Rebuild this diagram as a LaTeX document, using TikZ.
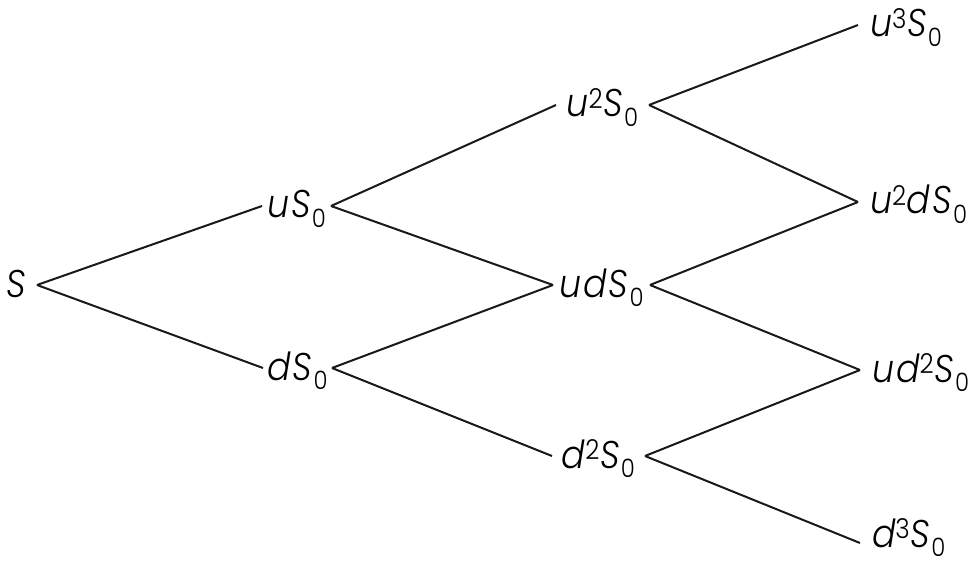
\documentclass[tikz,border=0pt]{standalone}
\usepackage{fontspec}
\setmainfont{Poppins}[UprightFont={* Light}, ItalicFont={* Light Italic}, FakeStretch=0.9]
\newcommand\supd[1]{\raisebox{6.5pt}{\fontsize{20.5}{20.5}\selectfont\upshape #1}\kern0.5pt}
\newcommand\subd[1]{\kern0.8pt\raisebox{-7pt}{\fontsize{19}{19}\selectfont\upshape #1}}
\newcommand\gp{\kern1.5pt}
\begin{document}
\begin{tikzpicture}[x=0.75pt,y=-0.75pt,
  lbl/.style={font=\fontsize{29}{31}\selectfont\itshape, text height=18pt, text depth=0pt,
              inner ysep=0pt, inner xsep=0pt, outer sep=0pt, align=center},
  edge/.style={draw=black!90, line width=1.5pt}]
\useasboundingbox (0,0) rectangle (975,574);
\node[lbl, anchor=east, inner xsep=8pt] (s) at (37,285) {S};
\node[lbl, minimum width=51.75pt] (u) at (296.5,206) {u\gp S\subd{0}};
\node[lbl, minimum width=51.75pt] (d) at (297.5,368) {d\gp S\subd{0}};
\node[lbl, minimum width=69.75pt] (uu) at (602.5,105) {u\supd{2}S\subd{0}};
\node[lbl, minimum width=72.75pt] (ud) at (601.5,285) {u\gp d\gp S\subd{0}};
\node[lbl, minimum width=69.75pt] (dd) at (598.5,456) {d\supd{2}S\subd{0}};
\node[lbl, anchor=west, inner xsep=9pt] (uuu) at (858,25) {u\supd{3}S\subd{0}};
\node[lbl, anchor=west, inner xsep=9pt] (uud) at (858,202) {u\supd{2}d\gp S\subd{0}};
\node[lbl, anchor=west, inner xsep=9pt] (udd) at (860,370) {u\gp d\supd{2}S\subd{0}};
\node[lbl, anchor=west, inner xsep=9pt, text height=6pt] (ddd) at (860,543) {d\supd{3}S\subd{0}};
\draw[edge] (s.east) -- (u.west);
\draw[edge] (s.east) -- (d.west);
\draw[edge] (u.east) -- (uu.west);
\draw[edge] (u.east) -- (ud.west);
\draw[edge] (d.east) -- (ud.west);
\draw[edge] (d.east) -- (dd.west);
\draw[edge] (uu.east) -- (uuu.west);
\draw[edge] (uu.east) -- (uud.west);
\draw[edge] (ud.east) -- (uud.west);
\draw[edge] (ud.east) -- (udd.west);
\draw[edge] (dd.east) -- (udd.west);
\draw[edge] (dd.east) -- (ddd.west);
\end{tikzpicture}
\end{document}
